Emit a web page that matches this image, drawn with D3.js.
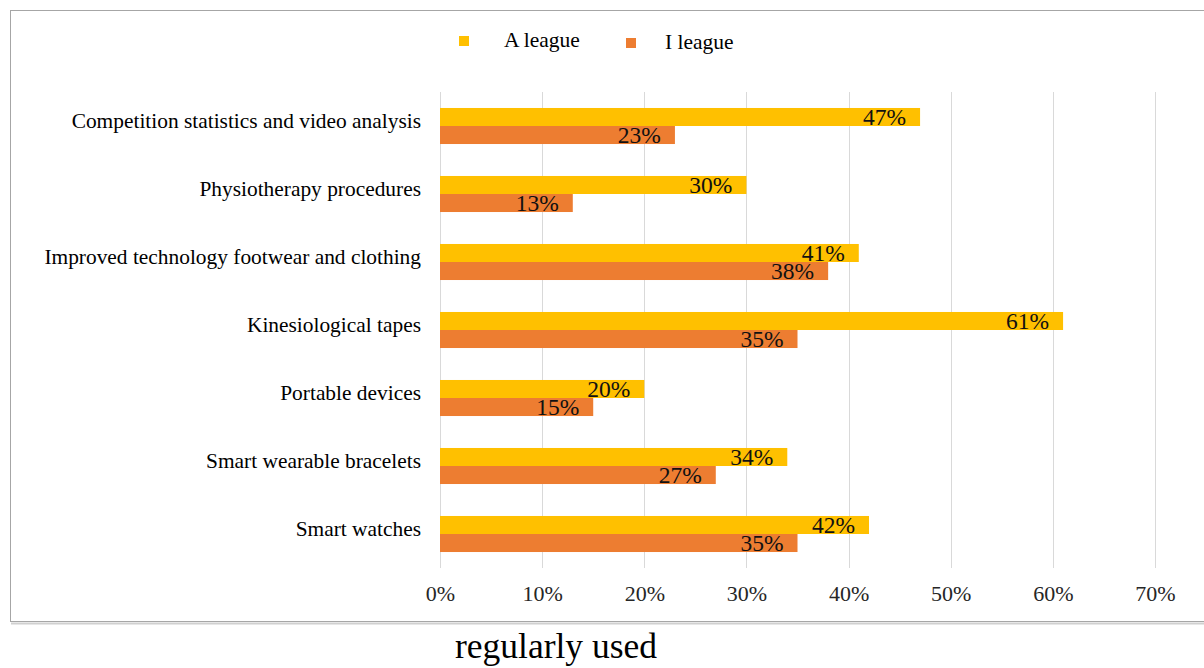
<!DOCTYPE html>
<html>
<head>
<meta charset="utf-8">
<script src="https://cdn.jsdelivr.net/npm/d3@7/dist/d3.min.js"></script>
<style>
  html, body { margin: 0; padding: 0; background: #fff; }
  svg { display: block; font-family: "Liberation Serif", "Times New Roman", serif; }
</style>
</head>
<body>
<svg id="chart" width="1204" height="668"></svg>
<script>
// Share of players regularly using each technology, by league
const categories = [
  "Competition statistics and video analysis",
  "Physiotherapy procedures",
  "Improved technology footwear and clothing",
  "Kinesiological tapes",
  "Portable devices",
  "Smart wearable bracelets",
  "Smart watches"
];
const seriesNames = ["A league", "I league"];
const aLeague = [47, 30, 41, 61, 20, 34, 42];
const iLeague = [23, 13, 38, 35, 15, 27, 35];
const tickValues = [0, 10, 20, 30, 40, 50, 60, 70];
const colors = ["#FFC000", "#ED7D31"];
const xTitle = "regularly used";

const svg = d3.select("#chart");

// outer frame
svg.append("rect")
  .attr("x", 10.5).attr("y", 10.5)
  .attr("width", 1200).attr("height", 611)
  .attr("fill", "none")
  .attr("stroke", "#a6a6a6")
  .attr("stroke-width", 1);
svg.append("line")
  .attr("x1", 11).attr("x2", 1204)
  .attr("y1", 623.5).attr("y2", 623.5)
  .attr("stroke", "#d0d0d0").attr("stroke-width", 2);

const plot = { left: 440, right: 1155, top: 92, bottom: 568 };

const x = d3.scaleLinear().domain([0, 70]).range([plot.left, plot.right]);
const y = d3.scaleBand().domain(categories)
  .range([plot.top, plot.bottom])
  .paddingInner(0.47).paddingOuter(0.235);
const ySub = d3.scaleBand().domain(seriesNames).range([0, y.bandwidth()]);

// vertical gridlines
svg.append("g")
  .selectAll("line")
  .data(tickValues)
  .join("line")
  .attr("x1", d => Math.round(x(d)) + 0.5)
  .attr("x2", d => Math.round(x(d)) + 0.5)
  .attr("y1", plot.top).attr("y2", plot.bottom)
  .attr("stroke", "#d9d9d9").attr("stroke-width", 1);

// x tick labels
const xAxis = d3.axisBottom(x).tickValues(tickValues).tickFormat(d => d + "%").tickSize(0).tickPadding(0);
const gx = svg.append("g").attr("transform", `translate(0,${plot.bottom + 17})`).call(xAxis);
gx.select(".domain").remove();
gx.selectAll("text")
  .attr("font-family", "Liberation Serif")
  .attr("font-size", 22)
  .attr("fill", "#262626");

// category labels
const yAxis = d3.axisLeft(y).tickSize(0).tickPadding(19);
const gy = svg.append("g").attr("transform", `translate(${plot.left},0)`).call(yAxis);
gy.select(".domain").remove();
gy.selectAll("text")
  .attr("font-family", "Liberation Serif")
  .attr("font-size", 21.4)
  .attr("fill", "#000")
  .attr("dy", "0.1em");

// bars
const rows = categories.map((c, i) => ({ cat: c, values: [aLeague[i], iLeague[i]] }));
const groups = svg.append("g").selectAll("g")
  .data(rows)
  .join("g")
  .attr("transform", d => `translate(0,${y(d.cat)})`);

groups.selectAll("rect")
  .data(d => d.values.map((v, j) => ({ name: seriesNames[j], v, j })))
  .join("rect")
  .attr("x", x(0))
  .attr("y", d => ySub(d.name))
  .attr("width", d => x(d.v) - x(0))
  .attr("height", ySub.bandwidth())
  .attr("fill", d => colors[d.j]);

// value labels, inside the bar end
groups.selectAll("text")
  .data(d => d.values.map((v, j) => ({ name: seriesNames[j], v, j })))
  .join("text")
  .attr("x", d => x(d.v) - 14)
  .attr("y", d => ySub(d.name) + ySub.bandwidth() / 2)
  .attr("dy", "0.34em")
  .attr("text-anchor", "end")
  .attr("font-family", "Liberation Serif")
  .attr("font-size", 23.5)
  .attr("fill", "#111")
  .text(d => d.v + "%");

// legend
const legendPos = [{ x: 459, y: 36, tx: 504, ty: 47 }, { x: 626, y: 38, tx: 665, ty: 49 }];
const legend = svg.append("g").selectAll("g")
  .data(seriesNames)
  .join("g");
legend.append("rect")
  .attr("x", (d, i) => legendPos[i].x)
  .attr("y", (d, i) => legendPos[i].y)
  .attr("width", 10).attr("height", 10)
  .attr("fill", (d, i) => colors[i]);
legend.append("text")
  .attr("x", (d, i) => legendPos[i].tx)
  .attr("y", (d, i) => legendPos[i].ty)
  .attr("font-family", "Liberation Serif")
  .attr("font-size", 21.5)
  .attr("fill", "#000")
  .text(d => d);

// axis title below the frame
svg.append("text")
  .attr("x", 556).attr("y", 658)
  .attr("text-anchor", "middle")
  .attr("font-family", "Liberation Serif")
  .attr("font-size", 35.5)
  .attr("fill", "#000")
  .text(xTitle);
</script>
</body>
</html>
